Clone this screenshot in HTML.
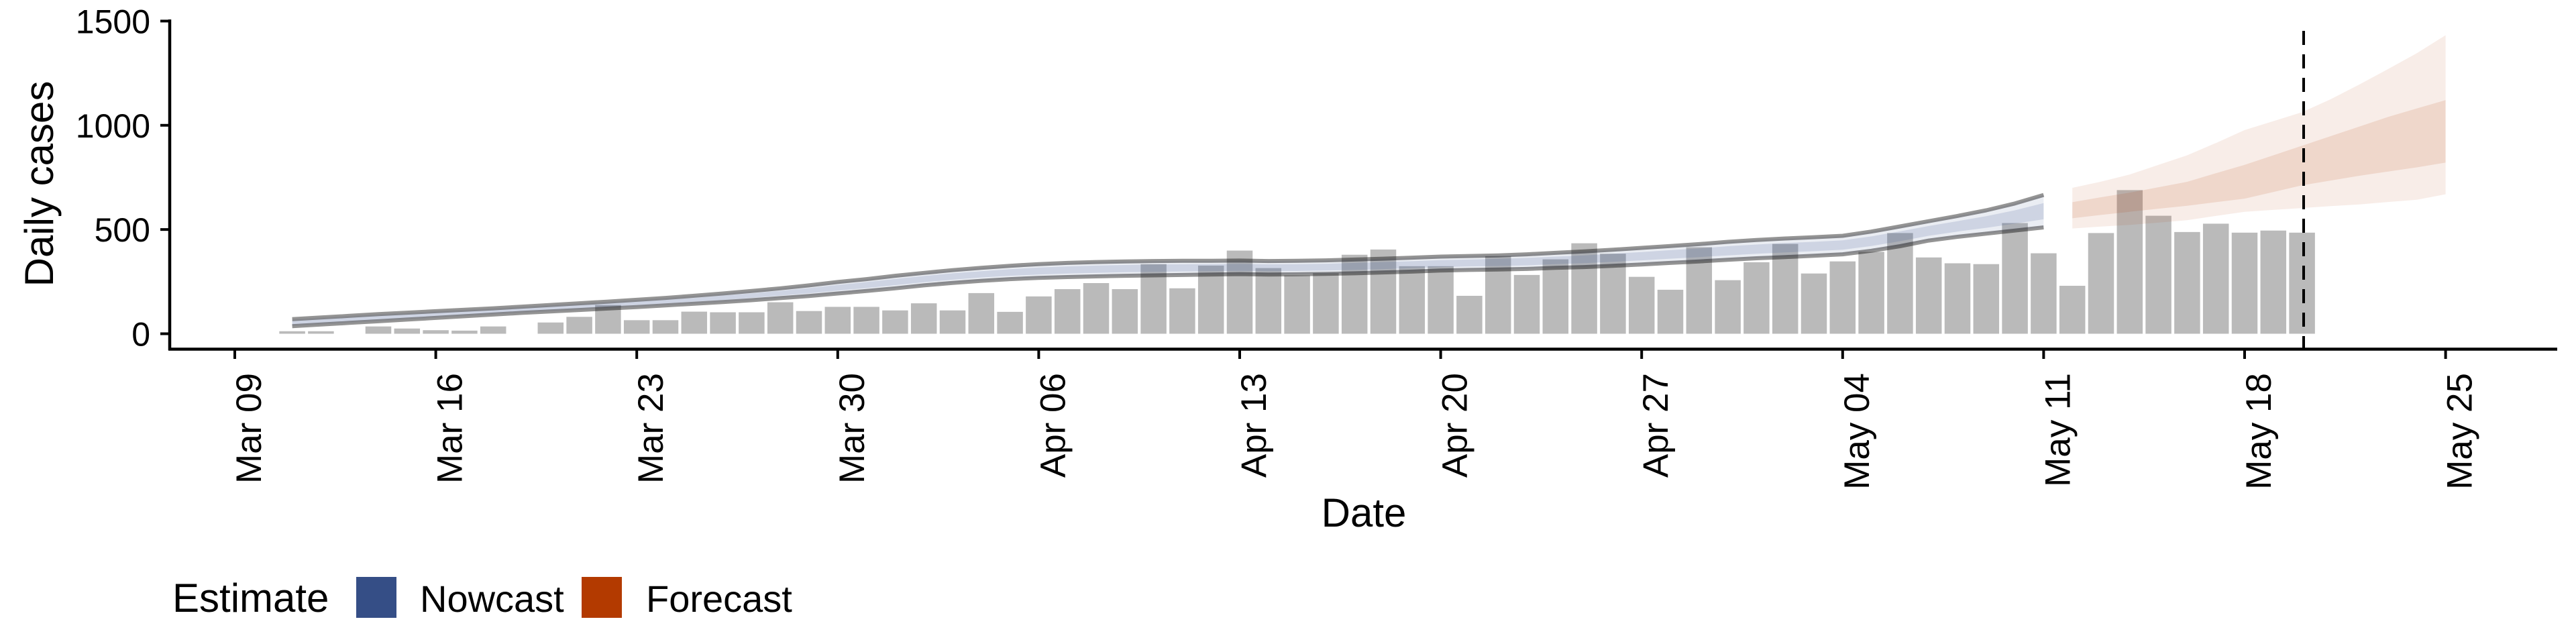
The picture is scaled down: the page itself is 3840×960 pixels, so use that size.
<!DOCTYPE html>
<html><head><meta charset="utf-8"><style>
html,body{margin:0;padding:0;background:#fff;}
svg{display:block;font-family:"Liberation Sans",sans-serif;}
</style></head><body>
<svg id="chart" width="3840" height="960" viewBox="0 0 3840 960" xmlns="http://www.w3.org/2000/svg">
<g id="bars"></g>
<g id="bands"></g>
<g id="axes"></g>
<g>
<text x="257" y="912" font-size="60">Estimate</text>
<rect x="531" y="860" width="60" height="61" fill="#354e86"/>
<text x="626" y="912" font-size="56">Nowcast</text>
<rect x="867" y="860" width="60" height="61" fill="#b33a00"/>
<text x="963" y="912" font-size="56">Forecast</text>
</g>
<text x="2033" y="785" font-size="60" text-anchor="middle">Date</text>
<text transform="translate(79,274) rotate(-90)" font-size="60" text-anchor="middle">Daily cases</text>
</svg>
<script>
const barStart = "2020-03-11";
const barValues = [12,12,0,35,25,17,15,35,0,54,81,138,65,65,106,103,103,151,109,129,129,
112,146,112,195,105,179,214,243,214,334,218,327,399,315,280,291,379,404,324,324,182,372,282,357,434,384,273,211,415,257,
343,431,289,347,393,483,366,338,334,531,386,230,483,689,566,488,528,485,495,485];
const nowStart = "2020-03-11";
const nowUpper90 = [70,78,86,94,101,108,115,122,130,138,146,154,163,172,182,193,205,218,232,248,262,278,292,305,316,326,334,340,344,347,349,350,350,351,349,350,352,356,360,365,370,373,376,381,388,395,403,412,421,430,441,450,457,463,470,490,515,540,565,592,625,666];
const nowLower90 = [36,44,52,60,68,76,84,92,100,107,114,121,128,136,144,152,161,171,181,193,205,218,232,244,254,262,268,272,275,278,280,282,284,286,284,285,287,290,294,298,303,306,308,311,316,320,326,332,340,347,355,362,368,374,381,398,420,447,465,480,495,510];
const nowUpper50 = [62,70,78,86,93,100,107,114,122,130,138,146,154,163,172,183,194,206,219,234,248,263,277,290,300,310,318,323,327,330,332,333,334,335,333,334,336,340,344,348,353,356,359,364,370,376,384,392,401,409,420,428,435,441,448,467,491,517,540,564,592,627];
const nowLower50 = [44,52,60,68,76,84,92,100,108,115,122,129,137,145,154,162,172,183,194,207,219,233,247,259,270,278,284,289,292,295,297,299,300,302,300,301,303,306,310,315,320,323,325,328,334,339,345,352,360,368,376,384,390,396,403,421,444,470,490,508,528,549];
const foreStart = "2020-05-12";
const foreUpper90 = [700,730,764,810,856,915,977,1020,1063,1125,1196,1270,1346,1432];
const foreLower90 = [505,514,522,533,545,565,585,594,603,612,620,632,643,669];
const foreUpper50 = [631,655,677,703,729,770,810,856,902,948,994,1040,1081,1121];
const foreLower50 = [554,570,585,600,614,631,648,680,712,735,758,778,798,821];
const yTicks = [0,500,1000,1500];
const xTickLabels = ["Mar 09","Mar 16","Mar 23","Mar 30","Apr 06","Apr 13","Apr 20","Apr 27","May 04","May 11","May 18","May 25"];
const xTickDates = ["2020-03-09","2020-03-16","2020-03-23","2020-03-30","2020-04-06","2020-04-13","2020-04-20","2020-04-27","2020-05-04","2020-05-11","2020-05-18","2020-05-25"];
const forecastDate = "2020-05-20";

const NS="http://www.w3.org/2000/svg";
const origin=Date.UTC(2020,2,9);
function dayOf(s){const p=s.split('-');return Math.round((Date.UTC(+p[0],+p[1]-1,+p[2])-origin)/86400000);}
const X0=350, DX=42.8;
function xs(d){return X0+d*DX;}
function ys(v){return 497.5-v*(466.1/1500);}
function mk(tag,attrs,parent){const e=document.createElementNS(NS,tag);for(const k in attrs)e.setAttribute(k,attrs[k]);parent.appendChild(e);return e;}

const barsG=document.getElementById('bars');
const d0=dayOf(barStart);
barValues.forEach((v,i)=>{
  if(v<=0)return;
  const cx=xs(d0+i), w=DX*0.9;
  const r=mk('rect',{x:cx-w/2,y:ys(v),width:w,height:ys(0)-ys(v),fill:'#bababa'},barsG);
  
  
});

const bandsG=document.getElementById('bands');
function area(start,up,lo,fill,op,name){
  const s=dayOf(start);let p='';
  up.forEach((v,i)=>{p+=(i?'L':'M')+xs(s+i).toFixed(1)+','+ys(v).toFixed(1);});
  for(let i=lo.length-1;i>=0;i--)p+='L'+xs(s+i).toFixed(1)+','+ys(lo[i]).toFixed(1);
  const e=mk('path',{d:p+'Z',fill:fill,'fill-opacity':op},bandsG);
  
  
}
function line(start,vals,name){
  const s=dayOf(start);let p='';
  vals.forEach((v,i)=>{p+=(i?'L':'M')+xs(s+i).toFixed(1)+','+ys(v).toFixed(1);});
  const e=mk('path',{d:p,fill:'none',stroke:'#000','stroke-opacity':0.42,'stroke-width':6,'stroke-linejoin':'round'},bandsG);
  
  
}
area(nowStart,nowUpper90,nowLower90,'#324b8c',0.1,'nowcast-band-90');
area(nowStart,nowUpper50,nowLower50,'#324b8c',0.15,'nowcast-band-50');
line(nowStart,nowUpper90,'nowcast-upper-line');
line(nowStart,nowLower90,'nowcast-lower-line');
area(foreStart,foreUpper90,foreLower90,'#b33a00',0.09,'forecast-band-90');
area(foreStart,foreUpper50,foreLower50,'#b33a00',0.12,'forecast-band-50');

const ax=document.getElementById('axes');
let e;
e=mk('line',{x1:3434,y1:46,x2:3434,y2:520,stroke:'#000','stroke-width':4,'stroke-dasharray':'21,14'},ax);


e=mk('line',{x1:253,y1:29,x2:253,y2:522,stroke:'#000','stroke-width':4.5},ax);


e=mk('line',{x1:251,y1:520.5,x2:3812,y2:520.5,stroke:'#000','stroke-width':4.5},ax);


yTicks.forEach(v=>{
  const y=ys(v);
  const t=mk('line',{x1:239,y1:y,x2:253,y2:y,stroke:'#000','stroke-width':4},ax);
  
  
  const l=mk('text',{x:224,y:y+18,'font-size':50,'text-anchor':'end'},ax);
  l.textContent=String(v);
  
  
});
xTickDates.forEach((s,i)=>{
  const x=xs(dayOf(s));
  const t=mk('line',{x1:x,y1:520,x2:x,y2:535,stroke:'#000','stroke-width':4},ax);
  
  
  const l=mk('text',{transform:'translate('+(x+39)+',556) rotate(-90)','font-size':53,'text-anchor':'end'},ax);
  l.textContent=xTickLabels[i];
  
  
});
</script>
</body></html>
